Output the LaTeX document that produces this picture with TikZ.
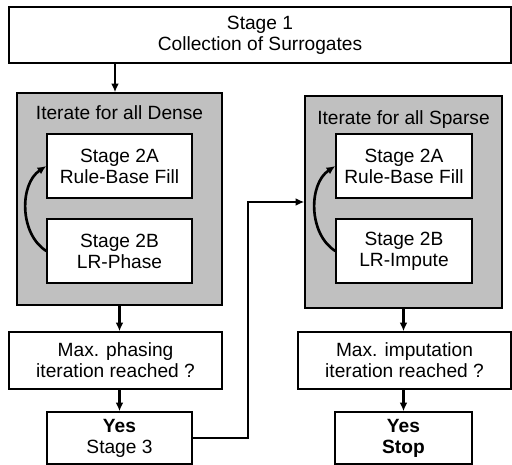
\documentclass[tikz,border=0pt]{standalone}
\usepackage{fontspec}
\setmainfont{Liberation Sans}
\usetikzlibrary{arrows.meta}
\definecolor{loopgrey}{HTML}{C0C0C0}
\begin{document}
\begin{tikzpicture}[x=0.02cm, y=-0.02cm,
  font=\fontsize{10.9pt}{12pt}\selectfont,
  stagebox/.style={draw, line width=0.8pt, fill=white, align=center, inner sep=0pt},
  loopbox/.style={draw, line width=0.8pt, fill=loopgrey, inner sep=0pt},
  flow/.style={line width=1.5pt, -{Latex[length=5pt, width=4.5pt]}}]
  \useasboundingbox (0, 0) rectangle (512, 465);

  \node[stagebox, minimum width=10.04cm, minimum height=1.12cm] (stage1) at (260, 35)
    {Stage 1\\Collection of Surrogates};

  \node[loopbox, minimum width=4.1cm, minimum height=4.24cm] (dense) at (119.5, 199) {};
  \node (denselabel) at (119.5, 113) {Iterate for all Dense};
  \node[stagebox, minimum width=2.9cm, minimum height=1.28cm] (dfill) at (119.5, 166)
    {Stage 2A\\Rule-Base Fill};
  \node[stagebox, minimum width=2.9cm, minimum height=1.28cm] (dphase) at (119.5, 251)
    {Stage 2B\\LR-Phase};

  \node[stagebox, minimum width=4.26cm, minimum height=1.14cm] (dmax) at (115.5, 360.5)
    {Max. phasing\\iteration reached ?};
  \node[stagebox, minimum width=2.9cm, minimum height=1.04cm] (dyes) at (119.5, 438)
    {\textbf{Yes}\\Stage 3};

  \node[loopbox, minimum width=3.94cm, minimum height=4.24cm] (sparse) at (403.5, 202) {};
  \node (sparselabel) at (403.5, 120) {Iterate for all Sparse};
  \node[stagebox, minimum width=2.72cm, minimum height=1.28cm] (sfill) at (404, 166)
    {Stage 2A\\Rule-Base Fill};
  \node[stagebox, minimum width=2.72cm, minimum height=1.28cm] (simpute) at (404, 251)
    {Stage 2B\\LR-Impute};

  \node[stagebox, minimum width=4.26cm, minimum height=1.14cm] (smax) at (404.5, 360.5)
    {Max. imputation\\iteration reached ?};
  \node[stagebox, minimum width=2.74cm, minimum height=1.04cm] (sstop) at (403.5, 438)
    {\textbf{Yes}\\\textbf{Stop}};

  \coordinate (turn) at (248, 0);

  \draw[flow] (stage1.south -| 115, 0) -- (dense.north -| 115, 0);
  \draw[flow] (dphase.west) .. controls +(-27, -17) and +(-27, 18) .. (dfill.west);
  \draw[flow] (dense.south -| dyes) -- (dmax.north -| dyes);
  \draw[flow] (dmax.south -| dyes) -- (dyes.north);
  \draw[flow] (dyes.east) -- (dyes.east -| turn) |- (sparse.west);
  \draw[flow] (simpute.west) .. controls +(-27, -17) and +(-27, 18) .. (sfill.west);
  \draw[flow] (sparse.south -| sstop) -- (smax.north -| sstop);
  \draw[flow] (smax.south -| sstop) -- (sstop.north);
\end{tikzpicture}
\end{document}
